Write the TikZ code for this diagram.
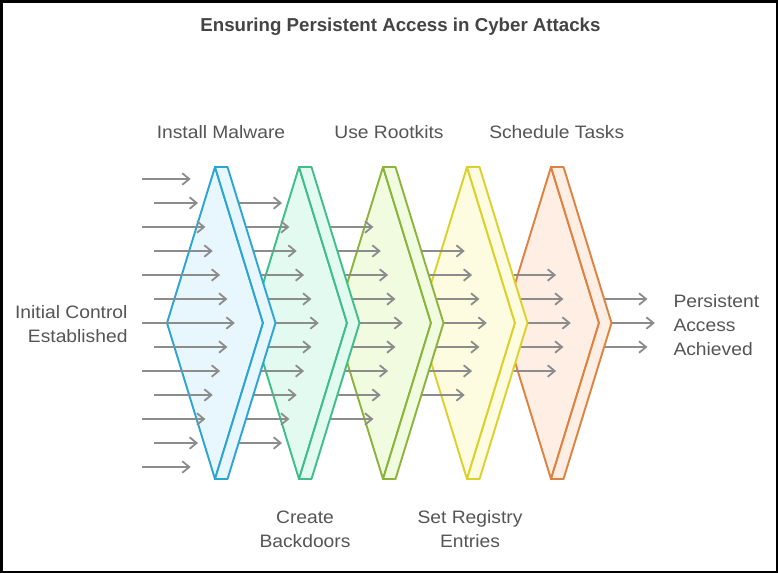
\documentclass[tikz,border=0pt]{standalone}
\usepackage{fontspec}
\setmainfont{Liberation Sans}
\newfontfamily\bodyfont[FakeStretch=1.07]{Liberation Sans}
\usetikzlibrary{arrows.meta}
\definecolor{txt}{HTML}{555555}
\definecolor{ttl}{HTML}{444444}
\definecolor{agray}{HTML}{8C8C8C}
\definecolor{s1}{HTML}{2BA5D3}\definecolor{f1}{HTML}{E8F6FD}
\definecolor{s2}{HTML}{3DBE8B}\definecolor{f2}{HTML}{E3FAF1}
\definecolor{s3}{HTML}{8BB53A}\definecolor{f3}{HTML}{F0FBE0}
\definecolor{s4}{HTML}{DCD12A}\definecolor{f4}{HTML}{FDFCE0}
\definecolor{s5}{HTML}{E0823F}\definecolor{f5}{HTML}{FEEEE4}
\begin{document}
\begin{tikzpicture}[x=1pt,y=-1pt,
  flow/.style={draw=agray, line width=1.8pt,
    -{Straight Barb[length=7pt,width=11.5pt,line width=1.8pt]}},
  stageface/.style={line width=1.9pt, line join=round},
  lbl/.style={inner sep=0pt, text=txt, font=\bodyfont\fontsize{18}{24}\selectfont},
  ttlstyle/.style={inner sep=0pt, text=ttl, font=\bfseries\fontsize{18.7}{23}\selectfont}]
\useasboundingbox (0,0) rectangle (778,573);
\fill[white] (0,0) rectangle (778,573);
\draw[line width=2.5pt] (1.25,1.25) rectangle (776.75,571.75);

\foreach \k/\sc/\fc in {6/s5/f5, 5/s5/f5, 4/s4/f4, 3/s3/f3, 2/s2/f2, 1/s1/f1} {
  \ifnum\k<6
    \pgfmathsetmacro\T{215+84*(\k-1)}
    \filldraw[stageface, draw=\sc, fill=\fc] (\T,167) -- (\T-48,323) -- (\T,479) -- (\T+48,323) -- cycle;
    \filldraw[stageface, draw=\sc, fill=\fc] (\T,167) -- (\T+12.5,167) -- (\T+60.5,323) -- (\T+12.5,479) -- (\T,479) -- (\T+48,323) -- cycle;
  \fi
  \pgfmathtruncatemacro\rlo{\k-1}
  \pgfmathtruncatemacro\rhi{13-\k}
  \foreach \r in {\rlo,...,\rhi} {
    \pgfmathsetmacro\tip{190.7+7.35*min(\r,12-\r)+84*(\k-1)}
    \pgfmathsetmacro\st{\k==1 ? (mod(\r,2)==0 ? 142 : 154) : 215+84*(\k-2)}
    \draw[flow] (\st,179+24*\r) -- (\tip,179+24*\r);
  }
}

\node[ttlstyle, anchor=base] (title) at (400.5,31) {Ensuring Persistent Access in Cyber Attacks};
\node[lbl, anchor=base] (install) at (221,138) {Install Malware};
\node[lbl, anchor=base] (rootkits) at (389,138) {Use Rootkits};
\node[lbl, anchor=base] (tasks) at (556.7,138) {Schedule Tasks};
\node[lbl, anchor=north, align=center] (backdoors) at (305,510.4) {Create\\Backdoors};
\node[lbl, anchor=north, align=center] (registry) at (470,510.4) {Set Registry\\Entries};
\node[lbl, anchor=north east, align=right] (initial) at (127.7,305.6) {Initial Control\\Established};
\node[lbl, anchor=north west, align=left] (persist) at (673.3,293.8) {Persistent\\Access\\Achieved};
\end{tikzpicture}
\end{document}
